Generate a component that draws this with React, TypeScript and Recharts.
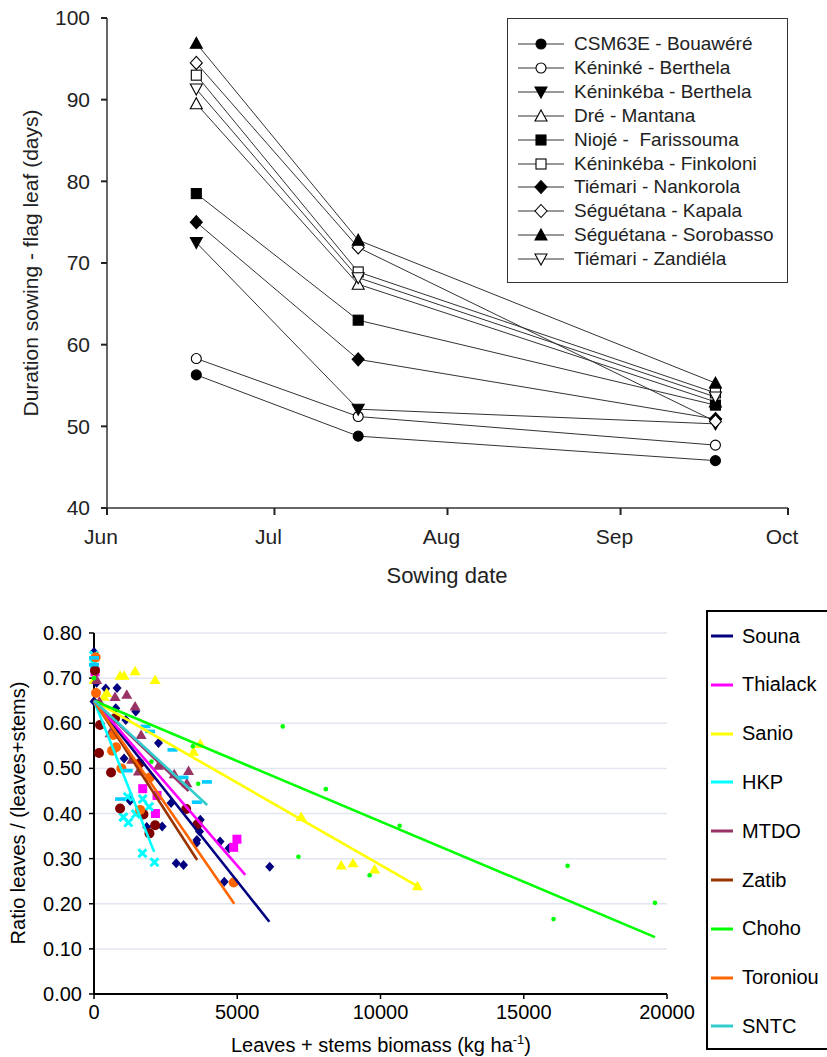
import React from "react";
import {
  LineChart,
  Line,
  ScatterChart,
  Scatter,
  XAxis,
  YAxis,
  CartesianGrid,
  Label,
} from "recharts";

const FONT = "Arial, 'Liberation Sans', Helvetica, sans-serif";

// ---------- top panel: sowing date vs duration sowing - flag leaf ----------
const sowingDays = [16, 45, 109]; // days after 1 June
const monthTicks = [0, 30, 61, 92, 122];
const monthLabels = ["Jun", "Jul", "Aug", "Sep", "Oct"];
const durationTicks = [40, 50, 60, 70, 80, 90, 100];

const csm63eBouawere = [56.3, 48.8, 45.8];
const keninkeBerthela = [58.3, 51.2, 47.7];
const keninkebaBerthela = [72.5, 52.1, 50.3];
const dreMantana = [89.5, 67.4, 53.0];
const niojeFarissouma = [78.5, 63.0, 52.6];
const keninkebaFinkoloni = [93.0, 68.9, 54.1];
const tiemariNankorola = [75.0, 58.2, 50.9];
const seguetanaKapala = [94.5, 71.9, 50.6];
const seguetanaSorobasso = [96.9, 72.8, 55.3];
const tiemariZandiela = [91.3, 68.2, 53.6];

const topSeries = [
  { key: "s1", name: "CSM63E - Bouawéré", values: csm63eBouawere, kind: "circle", filled: true },
  { key: "s2", name: "Kéninké - Berthela", values: keninkeBerthela, kind: "circle", filled: false },
  { key: "s3", name: "Kéninkéba - Berthela", values: keninkebaBerthela, kind: "down", filled: true },
  { key: "s4", name: "Dré - Mantana", values: dreMantana, kind: "up", filled: false },
  { key: "s5", name: "Niojé -  Farissouma", values: niojeFarissouma, kind: "square", filled: true },
  { key: "s6", name: "Kéninkéba - Finkoloni", values: keninkebaFinkoloni, kind: "square", filled: false },
  { key: "s7", name: "Tiémari - Nankorola", values: tiemariNankorola, kind: "diamond", filled: true },
  { key: "s8", name: "Séguétana - Kapala", values: seguetanaKapala, kind: "diamond", filled: false },
  { key: "s9", name: "Séguétana - Sorobasso", values: seguetanaSorobasso, kind: "up", filled: true },
  { key: "s10", name: "Tiémari - Zandiéla", values: tiemariZandiela, kind: "down", filled: false },
];

const topRows = sowingDays.map((day, i) => {
  const row: Record<string, number> = { day };
  topSeries.forEach((s) => (row[s.key] = s.values[i]));
  return row;
});

// ---------- bottom panel: biomass vs leaf ratio ----------
const biomassTicks = [0, 5000, 10000, 15000, 20000];
const ratioTicks = [0, 0.1, 0.2, 0.3, 0.4, 0.5, 0.6, 0.7, 0.8];

const sounaPts = [
  [0, 0.758], [0, 0.648], [90, 0.69], [409, 0.677], [805, 0.678], [760, 0.633],
  [1110, 0.607], [1458, 0.626], [1050, 0.522], [2250, 0.556], [1260, 0.428],
  [1840, 0.37], [2380, 0.371], [2690, 0.423], [2870, 0.29], [3125, 0.286],
  [3710, 0.386], [3685, 0.36], [3590, 0.341], [3570, 0.334], [4400, 0.338],
  [4710, 0.323], [4547, 0.249], [6133, 0.282],
];
const thialackPts = [
  [35, 0.714], [1700, 0.455], [2145, 0.4], [2200, 0.44], [4874, 0.325], [4990, 0.343],
];
const sanioPts = [
  [0, 0.696], [350, 0.659], [443, 0.667], [910, 0.705], [1050, 0.705], [1434, 0.715],
  [2134, 0.696], [3475, 0.537], [3708, 0.554], [7230, 0.392], [8630, 0.285],
  [9040, 0.29], [9795, 0.276], [11290, 0.239],
];
const hkpPts = [
  [0, 0.75], [0, 0.733], [1177, 0.437], [1026, 0.392], [1200, 0.38], [1458, 0.399],
  [1700, 0.432], [1923, 0.415], [1690, 0.312], [2110, 0.292],
];
const mtdoPts = [
  [93, 0.696], [187, 0.648], [735, 0.658], [1143, 0.663], [1434, 0.637], [560, 0.578],
  [1644, 0.574], [1318, 0.519], [1550, 0.493], [2250, 0.506], [2800, 0.487],
  [3300, 0.494], [3240, 0.467],
];
const zatibPts = [
  [35, 0.717], [210, 0.596], [175, 0.534], [595, 0.491], [910, 0.411], [1725, 0.398],
  [1935, 0.356], [2134, 0.374], [1585, 0.511], [3615, 0.376], [3218, 0.41], [735, 0.611],
];
const chohoPts = [
  [0, 0.7], [2006, 0.515], [3450, 0.549], [3638, 0.466], [6588, 0.593], [8092, 0.454],
  [10669, 0.373], [7136, 0.304], [9620, 0.263], [16530, 0.284], [16040, 0.166],
  [19580, 0.202],
];
const toroniouPts = [
  [58, 0.746], [70, 0.667], [676, 0.574], [770, 0.547], [630, 0.539], [956, 0.5],
  [1609, 0.408], [1948, 0.48], [4874, 0.247],
];
const sntcPts = [
  [0, 0.745], [0, 0.73], [1796, 0.593], [1959, 0.582], [2740, 0.541], [3125, 0.48],
  [3940, 0.47], [3590, 0.425], [910, 0.432], [1177, 0.495],
];

// fitted lines: [start, end]
const sounaFit = [[0, 0.65], [6120, 0.16]];
const thialackFit = [[0, 0.65], [5280, 0.264]];
const sanioFit = [[0, 0.65], [11260, 0.24]];
const hkpFit = [[0, 0.65], [2100, 0.315]];
const mtdoFit = [[0, 0.65], [3300, 0.45]];
const zatibFit = [[0, 0.65], [3600, 0.297]];
const chohoFit = [[0, 0.65], [19580, 0.126]];
const toroniouFit = [[0, 0.65], [4896, 0.2]];
const sntcFit = [[0, 0.65], [3950, 0.419]];

const bottomSeries = [
  { name: "Souna", pts: sounaPts, fit: sounaFit, line: "#000080", mark: "#000080", shape: "diamond" },
  { name: "Thialack", pts: thialackPts, fit: thialackFit, line: "#FF00FF", mark: "#FF00FF", shape: "square" },
  { name: "Sanio", pts: sanioPts, fit: sanioFit, line: "#FFFF00", mark: "#FFFF00", shape: "triangle" },
  { name: "HKP", pts: hkpPts, fit: hkpFit, line: "#00FFFF", mark: "#00FFFF", shape: "x" },
  { name: "MTDO", pts: mtdoPts, fit: mtdoFit, line: "#993366", mark: "#993366", shape: "triangle" },
  { name: "Zatib", pts: zatibPts, fit: zatibFit, line: "#993300", mark: "#800000", shape: "circle" },
  { name: "Choho", pts: chohoPts, fit: chohoFit, line: "#00FF00", mark: "#00FF00", shape: "dot" },
  { name: "Toroniou", pts: toroniouPts, fit: toroniouFit, line: "#FF6600", mark: "#FF6600", shape: "circle" },
  { name: "SNTC", pts: sntcPts, fit: sntcFit, line: "#33CCCC", mark: "#00CCFF", shape: "dash" },
];

const toXY = (arr: number[][]) => arr.map(([x, y]) => ({ x, y }));

function TopMarker({ cx, cy, kind, filled }: any) {
  const p = { fill: filled ? "#000" : "#fff", stroke: "#000", strokeWidth: 1.1 };
  if (cx == null || cy == null) return null;
  switch (kind) {
    case "circle":
      return <circle cx={cx} cy={cy} r={5} {...p} />;
    case "square":
      return <rect x={cx - 5} y={cy - 5} width={10} height={10} {...p} />;
    case "up":
      return <polygon points={`${cx},${cy - 6} ${cx + 6},${cy + 5} ${cx - 6},${cy + 5}`} {...p} />;
    case "down":
      return <polygon points={`${cx},${cy + 6} ${cx + 6},${cy - 5} ${cx - 6},${cy - 5}`} {...p} />;
    default:
      return <polygon points={`${cx},${cy - 6.5} ${cx + 6},${cy} ${cx},${cy + 6.5} ${cx - 6},${cy}`} {...p} />;
  }
}

function PointMark({ cx, cy, shape, color }: any) {
  if (cx == null || cy == null) return <g />;
  switch (shape) {
    case "diamond":
      return <polygon points={`${cx},${cy - 5} ${cx + 4.5},${cy} ${cx},${cy + 5} ${cx - 4.5},${cy}`} fill={color} />;
    case "square":
      return <rect x={cx - 4.5} y={cy - 4.5} width={9} height={9} fill={color} />;
    case "triangle":
      return <polygon points={`${cx},${cy - 5.5} ${cx + 5.5},${cy + 4} ${cx - 5.5},${cy + 4}`} fill={color} />;
    case "x":
      return (
        <path d={`M${cx - 4},${cy - 4}L${cx + 4},${cy + 4}M${cx + 4},${cy - 4}L${cx - 4},${cy + 4}`} stroke={color} strokeWidth={3} />
      );
    case "circle":
      return <circle cx={cx} cy={cy} r={5} fill={color} />;
    case "dot":
      return <circle cx={cx} cy={cy} r={2.3} fill={color} />;
    default:
      return <rect x={cx - 5} y={cy - 1.8} width={10} height={3.6} fill={color} />;
  }
}

function TopPanel() {
  return (
    <div style={{ position: "absolute", left: 0, top: 0, width: 827, height: 600 }}>
      <LineChart width={827} height={600} data={topRows} margin={{ top: 18, right: 39, bottom: 62, left: 47 }}>
        <XAxis
          dataKey="day"
          type="number"
          domain={[0, 122]}
          ticks={monthTicks}
          tickFormatter={(v) => monthLabels[monthTicks.indexOf(v)]}
          height={30}
          axisLine={{ stroke: "#333", strokeWidth: 1.5 }}
          tickLine={{ stroke: "#222", strokeWidth: 2 }}
          tickSize={7}
          tickMargin={14}
          tick={{ fontSize: 21, fill: "#222", fontFamily: FONT, dx: -6 }}
        >
          <Label
            content={() => (
              <text x={447} y={575} textAnchor="middle" dominantBaseline="central" fontSize={22} fill="#222" fontFamily={FONT}>
                Sowing date
              </text>
            )}
          />
        </XAxis>
        <XAxis
          xAxisId="top"
          orientation="top"
          type="number"
          domain={[0, 122]}
          ticks={monthTicks}
          tickFormatter={() => ""}
          height={0}
          axisLine={{ stroke: "#333", strokeWidth: 1.5 }}
          tickLine={{ stroke: "#222", strokeWidth: 2 }}
          tickSize={6}
        />
        <YAxis
          type="number"
          domain={[40, 100]}
          ticks={durationTicks}
          width={60}
          axisLine={{ stroke: "#333", strokeWidth: 1.5 }}
          tickLine={{ stroke: "#222", strokeWidth: 2 }}
          tickSize={6}
          tickMargin={11}
          tick={{ fontSize: 21, fill: "#222", fontFamily: FONT }}
        >
          <Label
            content={() => (
              <text
                x={30}
                y={263}
                transform="rotate(-90 30 263)"
                textAnchor="middle"
                dominantBaseline="central"
                fontSize={21}
                fill="#222"
                fontFamily={FONT}
              >
                Duration sowing - flag leaf (days)
              </text>
            )}
          />
        </YAxis>
        <YAxis
          yAxisId="right"
          orientation="right"
          type="number"
          domain={[40, 100]}
          ticks={durationTicks}
          tickFormatter={() => ""}
          width={0}
          axisLine={{ stroke: "#333", strokeWidth: 1.5 }}
          tickLine={false}
        />
        {topSeries.map((s) => (
          <Line
            key={s.key}
            dataKey={s.key}
            name={s.name}
            stroke="#333"
            strokeWidth={1}
            isAnimationActive={false}
            dot={(p: any) => <TopMarker key={`${s.key}-${p.index}`} cx={p.cx} cy={p.cy} kind={s.kind} filled={s.filled} />}
            activeDot={false}
          />
        ))}
      </LineChart>
      <div
        style={{
          position: "absolute",
          left: 507,
          top: 18,
          width: 281,
          height: 265,
          boxSizing: "border-box",
          border: "1.5px solid #333",
          background: "#fff",
        }}
      >
        {topSeries.map((s, i) => (
          <div
            key={s.key}
            style={{ position: "absolute", left: 0, top: 13 + i * 23.9, height: 24, display: "flex", alignItems: "center" }}
          >
            <svg width={62} height={24} style={{ display: "block" }}>
              <line x1={10} y1={12} x2={56} y2={12} stroke="#333" strokeWidth={1} />
              <TopMarker cx={33} cy={12} kind={s.kind} filled={s.filled} />
            </svg>
            <span style={{ fontFamily: FONT, fontSize: 19, color: "#222", whiteSpace: "pre", marginLeft: 4 }}>{s.name}</span>
          </div>
        ))}
      </div>
    </div>
  );
}

function BottomPanel() {
  return (
    <div style={{ position: "absolute", left: 0, top: 600, width: 827, height: 457 }}>
      <ScatterChart width={827} height={457} margin={{ top: 33, right: 160, bottom: 33, left: 24 }}>
        <CartesianGrid vertical={false} stroke="#e2e6f2" strokeWidth={1.5} />
        <XAxis
          dataKey="x"
          type="number"
          domain={[0, 20000]}
          ticks={biomassTicks}
          height={30}
          axisLine={{ stroke: "#000", strokeWidth: 2 }}
          tickLine={{ stroke: "#000", strokeWidth: 1.5 }}
          tickSize={5}
          tickMargin={6}
          tick={{ fontSize: 20, fill: "#000", fontFamily: FONT }}
        >
          <Label
            content={() => (
              <text x={381} y={452} textAnchor="middle" fontSize={20} fill="#000" fontFamily={FONT}>
                Leaves + stems biomass (kg ha
                <tspan dy={-8} fontSize={13}>-1</tspan>
                <tspan dy={8}>)</tspan>
              </text>
            )}
          />
        </XAxis>
        <XAxis
          xAxisId="top"
          orientation="top"
          type="number"
          domain={[0, 20000]}
          height={0}
          tickFormatter={() => ""}
          axisLine={{ stroke: "#000", strokeWidth: 2 }}
          tickLine={false}
        />
        <YAxis
          dataKey="y"
          type="number"
          domain={[0, 0.8]}
          ticks={ratioTicks}
          tickFormatter={(v) => v.toFixed(2)}
          width={70}
          axisLine={{ stroke: "#000", strokeWidth: 2 }}
          tickLine={{ stroke: "#000", strokeWidth: 1.5 }}
          tickSize={5}
          tickMargin={7}
          tick={{ fontSize: 20, fill: "#000", fontFamily: FONT }}
        >
          <Label
            content={() => (
              <text
                x={18}
                y={213}
                transform="rotate(-90 18 213)"
                textAnchor="middle"
                dominantBaseline="central"
                fontSize={20}
                fill="#000"
                fontFamily={FONT}
              >
                Ratio leaves / (leaves+stems)
              </text>
            )}
          />
        </YAxis>
        <YAxis
          yAxisId="right"
          orientation="right"
          type="number"
          domain={[0, 0.8]}
          width={0}
          tickFormatter={() => ""}
          axisLine={{ stroke: "#222", strokeWidth: 2 }}
          tickLine={false}
        />
        {bottomSeries.map((s) => (
          <Scatter
            key={`pts-${s.name}`}
            name={s.name}
            data={toXY(s.pts)}
            isAnimationActive={false}
            shape={(p: any) => <PointMark cx={p.cx} cy={p.cy} shape={s.shape} color={s.mark} />}
          />
        ))}
        {bottomSeries.map((s) => (
          <Scatter
            key={`fit-${s.name}`}
            name={`${s.name} fit`}
            data={toXY(s.fit)}
            isAnimationActive={false}
            line={{ stroke: s.line, strokeWidth: 2.6 }}
            shape={() => <g />}
          />
        ))}
      </ScatterChart>
      <div
        style={{
          position: "absolute",
          left: 706,
          top: 10,
          width: 130,
          height: 440,
          boxSizing: "border-box",
          border: "2px solid #000",
          background: "#fff",
        }}
      >
        {bottomSeries.map((s, i) => (
          <div
            key={s.name}
            style={{ position: "absolute", left: 0, top: 11 + i * 48.8, height: 26, display: "flex", alignItems: "center" }}
          >
            <svg width={32} height={26} style={{ display: "block" }}>
              <line x1={3} y1={13} x2={25} y2={13} stroke={s.line} strokeWidth={3} />
            </svg>
            <span style={{ fontFamily: FONT, fontSize: 20, color: "#000", marginLeft: 2 }}>{s.name}</span>
          </div>
        ))}
      </div>
    </div>
  );
}

export default function App() {
  return (
    <div style={{ position: "absolute", left: 0, top: 0, width: 827, height: 1057, background: "#fff", overflow: "hidden" }}>
      <TopPanel />
      <BottomPanel />
    </div>
  );
}
